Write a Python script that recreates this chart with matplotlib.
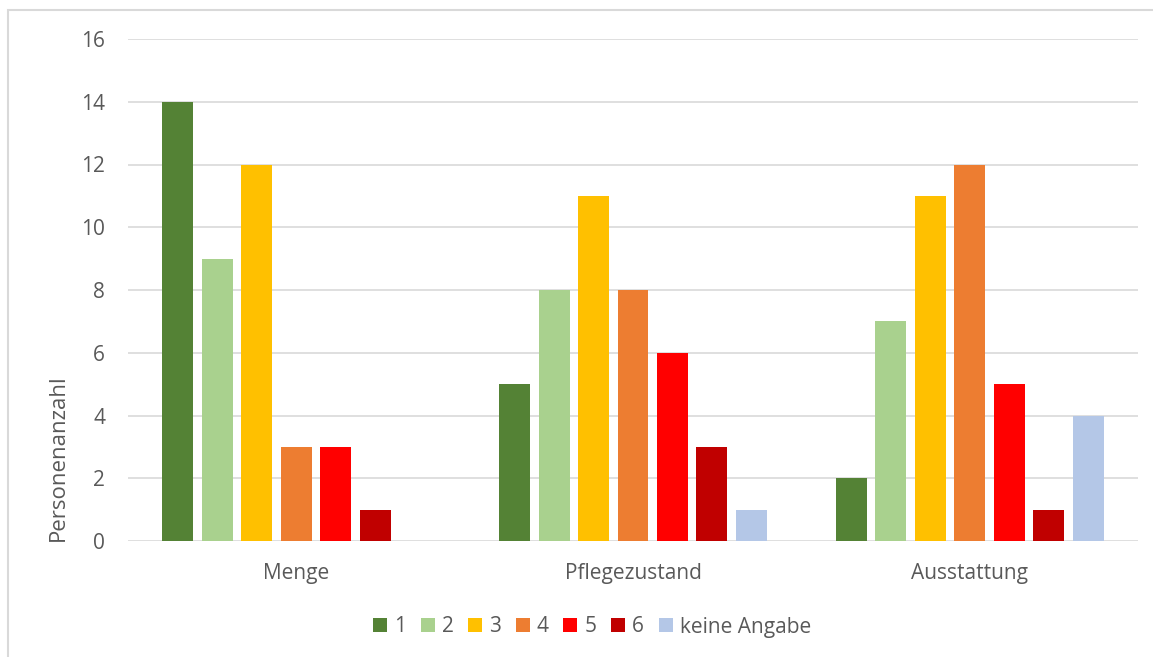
import matplotlib
matplotlib.use("Agg")
import matplotlib.pyplot as plt
from matplotlib.patches import Rectangle, Patch
import numpy as np

categories = ["Menge", "Pflegezustand", "Ausstattung"]
series_names = ["1", "2", "3", "4", "5", "6", "keine Angabe"]
values = {
    "1": [14, 5, 2],
    "2": [9, 8, 7],
    "3": [12, 11, 11],
    "4": [3, 8, 12],
    "5": [3, 6, 5],
    "6": [1, 3, 1],
    "keine Angabe": [0, 1, 4],
}
colors = ["#548235", "#A9D18E", "#FFC000", "#ED7D31", "#FF0000", "#C00000", "#B4C7E7"]
y_ticks = [0, 2, 4, 6, 8, 10, 12, 14, 16]

plt.rcParams["font.family"] = ["Open Sans", "DejaVu Sans"]
text_color = "#595959"
grid_color = "#D9D9D9"

W, H = 1153, 657
fig = plt.figure(figsize=(W / 100, H / 100), dpi=100)
fig.patch.set_facecolor("white")

# outer chart frame
fig.patches.append(Rectangle((8 / W, -0.05), 1.1, 1 - 10 / H + 0.05,
                             transform=fig.transFigure, fill=False,
                             edgecolor=grid_color, linewidth=1.5))

ax = fig.add_axes([128 / W, 1 - 541 / H, (1138 - 128) / W, (541 - 39) / H])
x = np.arange(len(categories))
step = 0.1173
bar_w = 0.092
n = len(series_names)
for i, name in enumerate(series_names):
    offs = (i - (n - 1) / 2) * step
    ax.bar(x + offs, values[name], width=bar_w, color=colors[i], label=name, zorder=3)

ax.set_xlim(-0.5, len(categories) - 0.5)
ax.set_ylim(0, 16)
ax.set_yticks(y_ticks)
ax.yaxis.grid(True, color=grid_color, linewidth=1.2, zorder=0)
ax.set_axisbelow(True)
for s in ax.spines.values():
    s.set_visible(False)
ax.tick_params(axis="both", length=0, labelsize=15, colors=text_color)
ax.tick_params(axis="y", pad=16.5)
ax.tick_params(axis="x", pad=15.5)
ax.set_xticks(x)
ax.set_xticklabels(categories)

fig.text(58 / W, 1 - 458 / H, "Personenanzahl", rotation=90, ha="center", va="center",
         fontsize=16, color=text_color)

handles = [Patch(facecolor=c, label=s) for c, s in zip(colors, series_names)]
fig.legend(handles=handles, loc="center", bbox_to_anchor=(592 / W, 1 - 627 / H),
           ncol=n, frameon=False, fontsize=15, labelcolor=text_color,
           handlelength=0.67, handleheight=0.67, handletextpad=0.34, columnspacing=0.7,
           borderpad=0, borderaxespad=0)

fig.savefig("out.png", dpi=100)
